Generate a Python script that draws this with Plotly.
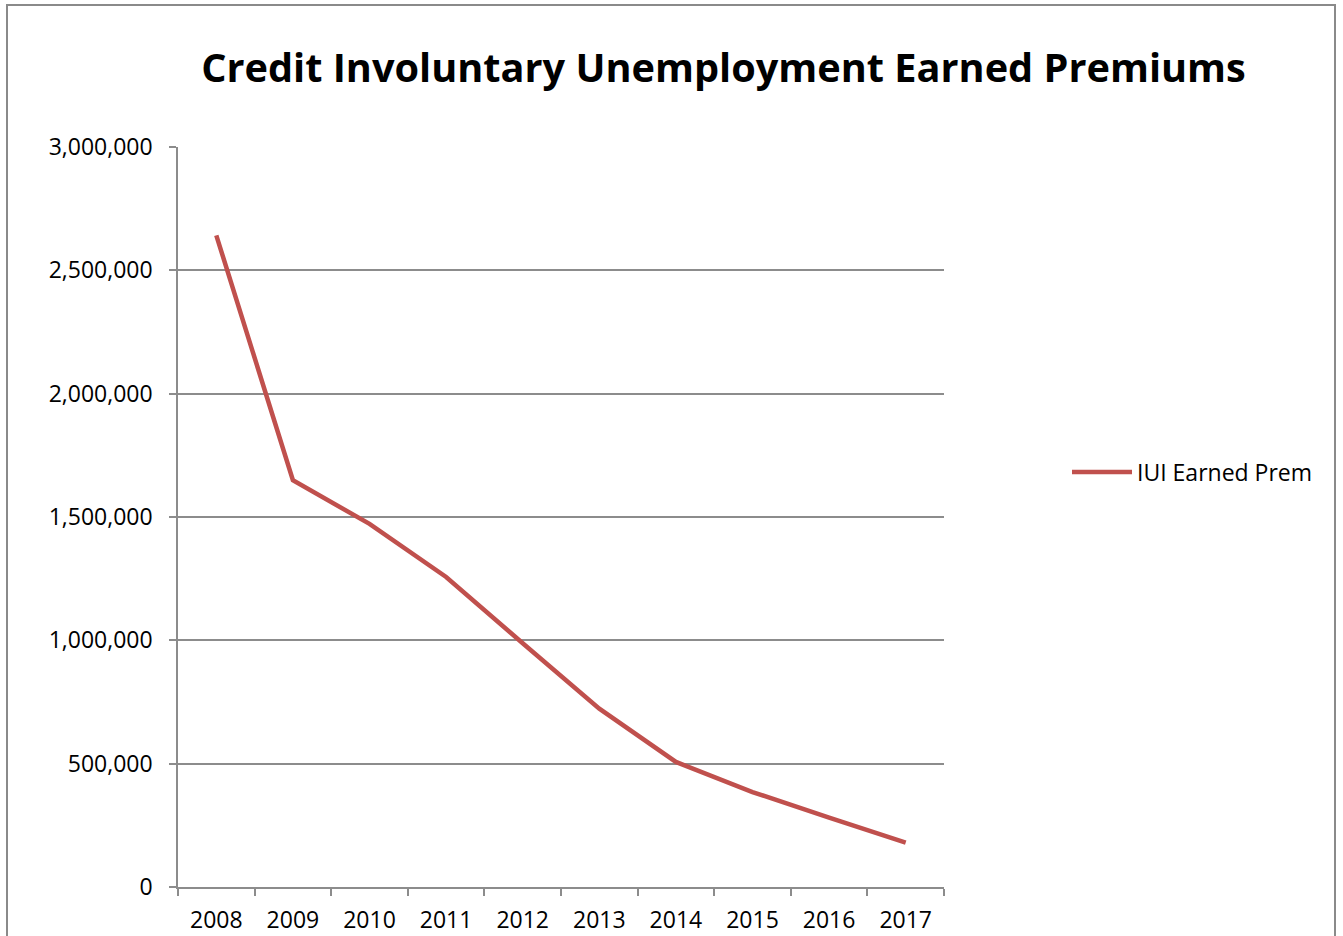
import plotly.graph_objects as go

# Credit involuntary unemployment (IUI) earned premiums by year
years = ["2008", "2009", "2010", "2011", "2012", "2013", "2014", "2015", "2016", "2017"]
earned_prem = [2642000, 1649000, 1472000, 1257000, 988000, 723000, 507000, 385000, 281000, 180000]
series_name = "IUI Earned Prem"
chart_title = "Credit Involuntary Unemployment Earned Premiums"
y_ticks = [0, 500000, 1000000, 1500000, 2000000, 2500000, 3000000]

W, H = 1343, 936
L, R, T, B = 178, 399, 147, 49
plot_w = W - L - R
plot_h = H - T - B

def px_x(p):
    return (p - L) / plot_w

def px_y(p):
    return (H - B - p) / plot_h

font = "Open Sans, Noto Sans, sans-serif"
grid = "#8c8c8c"

fig = go.Figure()
fig.add_trace(go.Scatter(
    x=years, y=earned_prem, mode="lines", name=series_name,
    line=dict(color="#C0504D", width=4.5),
))

fig.update_layout(
    width=W, height=H,
    margin=dict(l=L, r=R, t=T, b=B, autoexpand=False),
    paper_bgcolor="white", plot_bgcolor="white",
    font=dict(family=font, color="black"),
    title=dict(text="<b>" + chart_title + "</b>", x=px_x(723.5), xref="paper", xanchor="center",
               y=1 - 68 / H, yanchor="middle", font=dict(size=39.7, family=font, color="black")),
    showlegend=True,
    legend=dict(x=px_x(1067), y=px_y(472), xanchor="left", yanchor="middle",
                font=dict(size=23, family=font, color="black"), itemwidth=60,
                bgcolor="rgba(0,0,0,0)"),
    xaxis=dict(type="category", showline=True, linecolor=grid, linewidth=1.5,
               ticks="outside", tickson="boundaries", ticklen=7, tickcolor=grid, tickwidth=1.5,
               showgrid=False, tickfont=dict(size=23, family=font, color="black"),
               ticklabelstandoff=12, automargin=False,
               range=[-0.5, len(years) - 0.5]),
    yaxis=dict(range=[0, 3000000], tickvals=y_ticks, tickformat=",d",
               showline=True, linecolor=grid, linewidth=1.5,
               ticks="outside", ticklen=7, tickcolor=grid, tickwidth=1.5,
               ticklabelstandoff=12, automargin=False,
               showgrid=True, gridcolor=grid, gridwidth=1.5, zeroline=False,
               tickfont=dict(size=23, family=font, color="black")),
    shapes=[dict(type="rect", xref="paper", yref="paper",
                 x0=px_x(7), x1=px_x(1335), y0=px_y(H + 20), y1=px_y(5),
                 line=dict(color="#8a8a8a", width=2), fillcolor="rgba(0,0,0,0)", layer="below")],
)

fig.write_html("out.html")
